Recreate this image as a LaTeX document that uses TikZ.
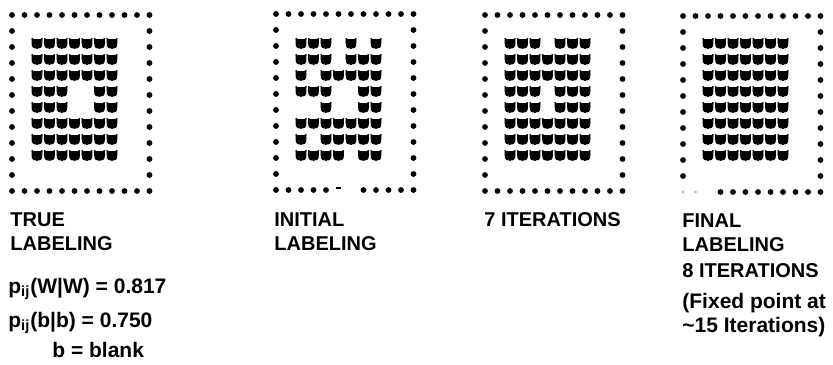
\documentclass[tikz,border=0pt]{standalone}
\usepackage{fontspec}
\setmainfont{Liberation Sans}
\usetikzlibrary{positioning}
\tikzset{
  caption/.style={font=\bfseries\fontsize{10}{12}\selectfont, anchor=base west, inner sep=0pt},
  probtext/.style={font=\bfseries\fontsize{10.5}{12}\selectfont, anchor=base west, inner sep=0pt},
  framedot/.style={fill=black},
  wmark/.pic={\fill[rounded corners=0.7] (-5.6,-6) -- (-2.5,-3) -- (0,-4.6) -- (2.5,-3) -- (5.6,-6)
     -- (5.1,4.4) -- (1,5.8) -- (0,5) -- (-1,5.8) -- (-5.1,4.4) -- cycle;}
}
% dotted frame: left x, top y, dots kept in the bottom row
\newcommand{\dotframe}[3]{%
  \foreach \i in {0,...,11} \fill[framedot] (#1+\i*12.5,#2) circle (2.9);
  \foreach \i in {#3} \fill[framedot] (#1+\i*12.5,#2+176) circle (2.9);
  \foreach \j in {1,...,10} {
    \fill[framedot] (#1,#2+\j*16) circle (2.9);
    \fill[framedot] (#1+137.5,#2+\j*16) circle (2.9);
  }
}
% labelled cells: left x of frame, row/{columns}
\newcommand{\wgrid}[2]{%
  \foreach \r/\cols in {#2}
    \foreach \c in \cols
      \pic at (#1+12.5+\c*12.5,27+\r*16) {wmark};
}

\begin{document}
\begin{tikzpicture}[x=0.5pt, y=-0.5pt]
  \fill[white] (0,0) rectangle (833,364);
  \useasboundingbox (0,0) rectangle (833,364);

  \dotframe{12}{15}{0,...,11}
  \wgrid{12}{1/{1,...,7},2/{1,...,7},3/{1,...,7},4/{1,2,3,6,7},5/{1,2,3,6,7},6/{1,...,7},7/{1,...,7},8/{1,...,7}}
  \node[caption] (truea) at (10,226) {TRUE};
  \node[caption] (trueb) at (10,250) {LABELING};
  \node[probtext] (pww) at (8,293) {p\textsubscript{ij}(W|W) = 0.817};
  \node[probtext] (pbb) at (8,327) {p\textsubscript{ij}(b|b) = 0.750};
  \node[probtext] (bdef) at (52,357) {b = blank};

  \dotframe{276}{14}{0,1,2,3,4,7,8,9,10,11}
  \fill[framedot] (276+5*12.5-2.5,189) rectangle ++(5,-1.8);
  \wgrid{276}{1/{1,2,3,5,7},2/{1,2,3,5,6,7},3/{1,3,4,5,6,7},4/{1,2,3,6,7},5/{3,6,7},6/{1,...,7},7/{1,3,4,5,6,7},8/{1,2,3,4,6,7}}
  \node[caption] (inita) at (274,226) {INITIAL};
  \node[caption] (initb) at (274,250) {LABELING};

  \dotframe{485}{15}{0,...,11}
  \wgrid{485}{1/{1,2,3,5,6,7},2/{1,...,7},3/{1,...,7},4/{1,2,3,5,6,7},5/{1,2,3,5,6,7},6/{1,...,7},7/{1,...,7},8/{1,...,7}}
  \node[caption] (seven) at (484,226) {7 ITERATIONS};

  \dotframe{683}{16}{3,...,11}
  \fill[black!25] (683,192) circle (1.6) (695.5,192) circle (1.6);
  \wgrid{683}{1/{1,...,7},2/{1,...,7},3/{1,...,7},4/{1,...,7},5/{1,...,7},6/{1,...,7},7/{1,...,7},8/{1,...,7}}
  \node[caption] (finala) at (682,227) {FINAL};
  \node[caption] (finalb) at (682,251) {LABELING};
  \node[caption] (finalc) at (682,277) {8 ITERATIONS};
  \node[probtext] (fixa) at (682,308) {(Fixed point at};
  \node[probtext] (fixb) at (682,332) {\textasciitilde 15 Iterations)};
\end{tikzpicture}
\end{document}
